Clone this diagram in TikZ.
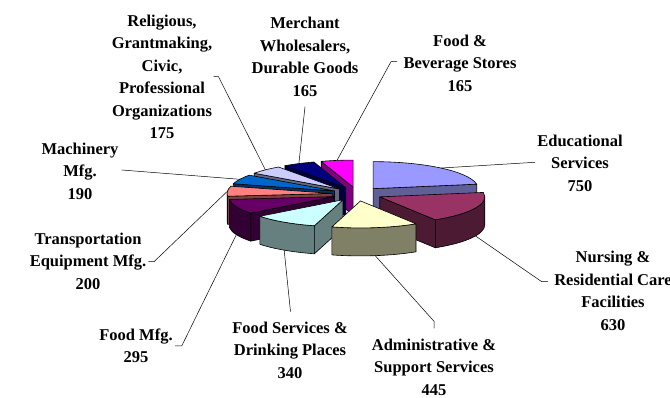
\documentclass[tikz,border=0pt]{standalone}
\usepackage{fontspec}
\setmainfont{Liberation Serif}
\usetikzlibrary{calc}

\definecolor{edu-t}{HTML}{9999FF}
\definecolor{edu-s}{HTML}{606099}
\definecolor{nurs-t}{HTML}{993366}
\definecolor{nurs-s}{HTML}{4D1A33}
\definecolor{admin-t}{HTML}{FFFFCC}
\definecolor{admin-s}{HTML}{808066}
\definecolor{fserv-t}{HTML}{CCFFFF}
\definecolor{fserv-s}{HTML}{668080}
\definecolor{fmfg-t}{HTML}{660066}
\definecolor{fmfg-s}{HTML}{330033}
\definecolor{trans-t}{HTML}{FF8080}
\definecolor{trans-s}{HTML}{804040}
\definecolor{mach-t}{HTML}{0066CC}
\definecolor{mach-s}{HTML}{003366}
\definecolor{relig-t}{HTML}{CCCCFF}
\definecolor{relig-s}{HTML}{666680}
\definecolor{merch-t}{HTML}{000080}
\definecolor{merch-s}{HTML}{000040}
\definecolor{fbev-t}{HTML}{FF00FF}
\definecolor{fbev-s}{HTML}{800080}

\begin{document}
\begin{tikzpicture}[x=1pt,y=1pt,
    face/.style={draw=black,line width=0.6pt,line join=round},
    lbl/.style={align=center,font=\bfseries\fontsize{16.5}{22.5}\selectfont},
    lead/.style={draw=black,line width=0.5pt}]

    \useasboundingbox (0,0) rectangle (670,398);

    \coordinate (C) at (357,204);

    \foreach \a/\b/\n in {-252.30/-270/fbev, -234.59/-252.30/merch, 90/9.52/edu,
        -215.81/-234.59/relig, -195.43/-215.81/mach, -173.97/-195.43/trans,
        9.52/-58.08/nurs, -142.31/-173.97/fmfg, -105.83/-142.31/fserv, -58.08/-105.83/admin}{
        \pgfmathsetmacro\m{(\a+\b)/2}
        \pgfmathsetmacro\wa{min(\a,0)}
        \pgfmathsetmacro\wb{max(\b,-180)}
        \pgfmathtruncatemacro\hw{\wa>\wb}
        \pgfmathtruncatemacro\fa{cos(\a)<-0.01}
        \pgfmathtruncatemacro\fb{cos(\b)>0.01}
        \pgfmathsetmacro\dy{sin(\m)<0 ? -28 : 0}
        \coordinate (A) at ($(C)+(\m:25 and 7)$);
        \ifnum\hw=1
            \filldraw[face,fill=\n-s] (A) ++(\wa:105 and 27) arc[start angle=\wa,end angle=\wb,x radius=105,y radius=27]
                -- ++(0,-28) arc[start angle=\wb,end angle=\wa,x radius=105,y radius=27] -- cycle;
        \fi
        \ifnum\fa=1
            \filldraw[face,fill=\n-s] (A) -- ++(\a:105 and 27) -- ++(0,-28) -- ($(A)+(0,-28)$) -- cycle;
        \fi
        \ifnum\fb=1
            \filldraw[face,fill=\n-s] (A) -- ++(\b:105 and 27) -- ++(0,-28) -- ($(A)+(0,-28)$) -- cycle;
        \fi
        \filldraw[face,fill=\n-t] (A) -- ++(\a:105 and 27) arc[start angle=\a,end angle=\b,x radius=105,y radius=27] -- cycle;
        \coordinate (p-\n) at ($(A)+(\m:105 and 27)+(0,\dy)$);
    }

    \node[lbl] (relig) at (162,321) {Religious,\\Grantmaking,\\Civic,\\Professional\\Organizations\\175};
    \node[lbl] (merch) at (305,341) {Merchant\\Wholesalers,\\Durable Goods\\165};
    \node[lbl] (fbev) at (460,335) {Food \&\\Beverage Stores\\165};
    \node[lbl] (edu) at (580,235) {Educational\\Services\\750};
    \node[lbl] (nurs) at (613,107) {Nursing \&\\Residential Care\\Facilities\\630};
    \node[lbl] (admin) at (434,31) {Administrative \&\\Support Services\\445};
    \node[lbl] (fserv) at (290,48) {Food Services \&\\Drinking Places\\340};
    \node[lbl] (fmfg) at (136,52) {Food Mfg.\\295};
    \node[lbl] (trans) at (88,137) {Transportation\\Equipment Mfg.\\200};
    \node[lbl] (mach) at (80,227) {Machinery\\Mfg.\\190};

    \coordinate (relig-e) at (213.5,321.3);
    \coordinate (merch-e) at (305,291.3);
    \coordinate (fbev-e) at (397,336.3);
    \coordinate (edu-e) at (535,235.7);
    \coordinate (nurs-e) at (548,116.3);
    \coordinate (admin-e) at (434,69.7);
    \coordinate (fserv-e) at (290.5,86.3);
    \coordinate (fmfg-e) at (175,52);
    \coordinate (trans-e) at (148.3,136.3);
    \coordinate (mach-e) at (121.7,228);

    \draw[lead] (p-relig) -- ([xshift=5pt]relig-e) -- (relig-e);
    \draw[lead] (p-merch) -- (merch-e);
    \draw[lead] (p-fbev) -- ([xshift=-6pt]fbev-e) -- (fbev-e);
    \draw[lead] (p-edu) -- (edu-e);
    \draw[lead] (p-nurs) -- ([xshift=-6.3pt]nurs-e) -- (nurs-e);
    \draw[lead] (p-admin) -- ([yshift=7pt]admin-e) -- (admin-e);
    \draw[lead] (p-fserv) -- (fserv-e);
    \draw[lead] (p-fmfg) -- ([xshift=6.7pt]fmfg-e) -- (fmfg-e);
    \draw[lead] (p-trans) -- ([xshift=5.7pt]trans-e) -- (trans-e);
    \draw[lead] (p-mach) -- (mach-e);
\end{tikzpicture}
\end{document}
